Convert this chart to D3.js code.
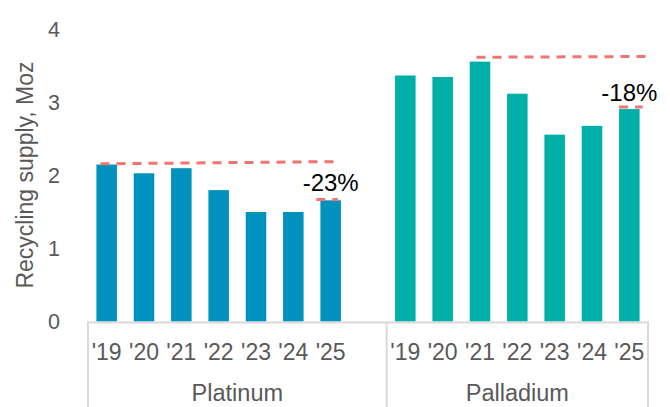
<!DOCTYPE html>
<html>
<head>
<meta charset="utf-8">
<script src="https://cdn.jsdelivr.net/npm/d3@7"></script>
<style>
  body { margin: 0; background: #fff; }
  text { font-family: "Liberation Sans", Arial, sans-serif; }
</style>
</head>
<body>
<div id="graph"></div>
<script>
// data
var metals = ["Platinum", "Palladium"];
var years = ["'19", "'20", "'21", "'22", "'23", "'24", "'25"];
var platinum = [2.15, 2.03, 2.10, 1.80, 1.50, 1.50, 1.66];
var palladium = [3.37, 3.35, 3.56, 3.12, 2.56, 2.68, 2.91];
var yTicks = [0, 1, 2, 3, 4];
// dashed guide lines: [metal, fromYear, toYear, fromValue, toValue, startShift, endShift]
var guides = [
  ["Platinum", "'19", "'25", 2.16, 2.19, 0.2, 0.65],
  ["Platinum", "'25", "'25", 1.67, 1.67, -0.2, 0.85],
  ["Palladium", "'21", "'25", 3.62, 3.63, 0.33, 1.3],
  ["Palladium", "'25", "'25", 2.94, 2.94, 0.0, 1.15]
];
// change labels: [metal, year, text, value at label centre]
var changes = [["Platinum", "'25", "-23%", 1.90], ["Palladium", "'25", "-18%", 3.14]];

var W = 670, H = 407;
var colors = {Platinum: "#0092BC", Palladium: "#00B0A8"};

// slots: platinum years, one empty slot, palladium years
var slots = [];
years.forEach(function(yr) { slots.push("Platinum " + yr); });
slots.push("gap");
years.forEach(function(yr) { slots.push("Palladium " + yr); });

var x = d3.scaleBand().domain(slots).range([88, 648]).paddingInner(0.45).paddingOuter(0.225);
var y = d3.scaleLinear().domain([0, 4]).range([321.5, 29.5]);

var svg = d3.select("#graph").append("svg")
  .attr("width", W).attr("height", H);

var bars = [];
years.forEach(function(yr, i) { bars.push({metal: "Platinum", year: yr, v: platinum[i]}); });
years.forEach(function(yr, i) { bars.push({metal: "Palladium", year: yr, v: palladium[i]}); });

svg.selectAll("rect.bar").data(bars).enter().append("rect")
  .attr("class", "bar")
  .attr("x", function(d) { return x(d.metal + " " + d.year); })
  .attr("width", x.bandwidth())
  .attr("y", function(d) { return y(d.v); })
  .attr("height", function(d) { return y(0) - y(d.v); })
  .attr("fill", function(d) { return colors[d.metal]; });

// y tick labels
svg.selectAll("text.ytick").data(yTicks).enter().append("text")
  .attr("class", "ytick")
  .attr("x", 60).attr("y", function(d) { return y(d); })
  .attr("dy", "0.36em")
  .attr("text-anchor", "end")
  .attr("font-size", 21.5).attr("fill", "#595959")
  .text(function(d) { return d; });

svg.append("text")
  .attr("transform", "translate(25," + 175 + ") rotate(-90)")
  .attr("text-anchor", "middle").attr("dy", "0.36em")
  .attr("font-size", 23).attr("fill", "#595959")
  .text("Recycling supply, Moz");

// category axis
var axisC = "#d9d9d9";
var step = x.step();
var left = x.range()[0], right = x.range()[1];
var divider = left + 8 * step;
svg.append("line").attr("x1", left).attr("x2", right).attr("y1", y(0) + 1).attr("y2", y(0) + 1)
  .attr("stroke", axisC).attr("stroke-width", 2);
[left, divider, right].forEach(function(px) {
  svg.append("line").attr("x1", px).attr("x2", px).attr("y1", y(0)).attr("y2", H)
    .attr("stroke", axisC).attr("stroke-width", 2);
});

svg.selectAll("text.year").data(bars).enter().append("text")
  .attr("class", "year")
  .attr("x", function(d) { return x(d.metal + " " + d.year) + x.bandwidth() / 2; })
  .attr("y", 352).attr("dy", "0.36em")
  .attr("text-anchor", "middle")
  .attr("font-size", 23).attr("fill", "#595959")
  .text(function(d) { return d.year; });

var groupMid = {Platinum: (left + divider) / 2, Palladium: (divider + right) / 2};
svg.selectAll("text.metal").data(metals).enter().append("text")
  .attr("class", "metal")
  .attr("x", function(d) { return groupMid[d]; })
  .attr("y", 392.5).attr("dy", "0.36em")
  .attr("text-anchor", "middle")
  .attr("font-size", 23.5).attr("fill", "#595959")
  .text(function(d) { return d; });

// dashed guides
var bw = x.bandwidth();
guides.forEach(function(g) {
  svg.append("line")
    .attr("x1", x(g[0] + " " + g[1]) + g[5] * bw)
    .attr("x2", x(g[0] + " " + g[2]) + g[6] * bw)
    .attr("y1", y(g[3])).attr("y2", y(g[4]))
    .attr("stroke", "#F07470").attr("stroke-width", 3)
    .attr("stroke-dasharray", "9,7");
});

svg.selectAll("text.change").data(changes).enter().append("text")
  .attr("class", "change")
  .attr("x", function(d) { return x(d[0] + " " + d[1]) + bw / 2; })
  .attr("y", function(d) { return y(d[3]); })
  .attr("dy", "0.36em")
  .attr("text-anchor", "middle")
  .attr("font-size", 24).attr("fill", "#000")
  .text(function(d) { return d[2]; });
</script>
</body>
</html>
